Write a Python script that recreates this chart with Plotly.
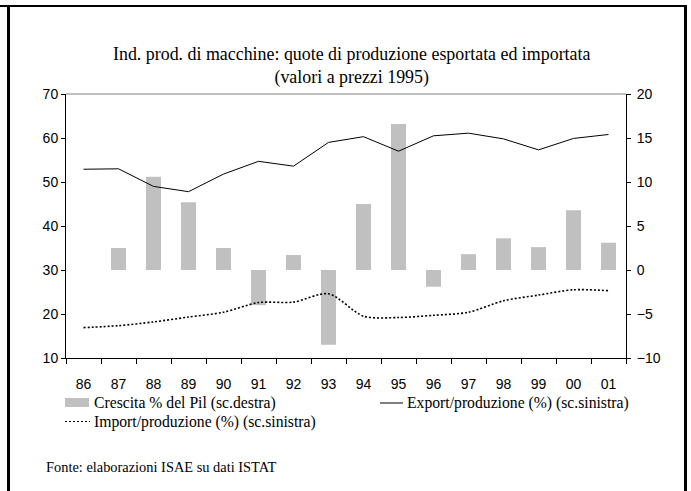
import plotly.graph_objects as go

# years on the category axis
anni = ["86", "87", "88", "89", "90", "91", "92", "93",
        "94", "95", "96", "97", "98", "99", "00", "01"]

# GDP growth (%), right scale -- no bar for 1986
crescita_pil = [None, 2.5, 10.6, 7.7, 2.5, -4.0, 1.7, -8.5,
                7.5, 16.6, -1.9, 1.8, 3.6, 2.6, 6.8, 3.1]

# export / production (%), left scale
export_prod = [52.9, 53.0, 49.0, 47.8, 51.8, 54.7, 53.6, 59.0,
               60.3, 57.0, 60.5, 61.1, 59.8, 57.3, 59.9, 60.8]

# import / production (%), left scale
import_prod = [16.9, 17.35, 18.2, 19.3, 20.4, 22.6, 22.7, 24.6,
               19.5, 19.2, 19.7, 20.4, 23.0, 24.3, 25.5, 25.3]

W, H = 691, 491
L, R, T, B = 66, 65, 94, 133
PW, PH = W - L - R, H - T - B


def px(x):
    # pixel x -> paper x
    return (x - L) / PW


def py(y):
    # pixel y -> paper y
    return (H - B - y) / PH


SERIF = "Liberation Serif, Times New Roman, serif"
SANS = "Liberation Sans, Arial, sans-serif"

fig = go.Figure()

# bars on the primary (right-hand) axis so the lines sit on top
fig.add_trace(go.Bar(
    x=anni, y=crescita_pil, yaxis="y", width=0.43,
    marker=dict(color="#c0c0c0", line=dict(width=0)),
    name="Crescita % del Pil (sc.destra)", showlegend=False,
))
fig.add_trace(go.Scatter(
    x=anni, y=export_prod, yaxis="y2", mode="lines",
    line=dict(color="black", width=1),
    name="Export/produzione (%) (sc.sinistra)", showlegend=False,
))
fig.add_trace(go.Scatter(
    x=anni, y=import_prod, yaxis="y2", mode="lines",
    line=dict(color="black", width=1.6, dash="2px,2px", shape="spline", smoothing=0.8),
    name="Import/produzione (%) (sc.sinistra)", showlegend=False,
))

shapes = [
    # grey top edge of the plot area
    dict(type="line", xref="paper", yref="paper", x0=0, x1=1, y0=1, y1=1,
         line=dict(color="#808080", width=1)),
    # outer frame (left, top, right)
    dict(type="line", xref="paper", yref="paper", x0=px(8.5), x1=px(8.5),
         y0=py(5), y1=py(495), line=dict(color="black", width=3)),
    dict(type="line", xref="paper", yref="paper", x0=px(0), x1=px(687),
         y0=py(6), y1=py(6), line=dict(color="black", width=2)),
    dict(type="line", xref="paper", yref="paper", x0=px(685.5), x1=px(685.5),
         y0=py(5), y1=py(495), line=dict(color="black", width=3)),
    # legend swatches
    dict(type="rect", xref="paper", yref="paper", x0=px(65), x1=px(89),
         y0=py(407), y1=py(398), fillcolor="#c0c0c0", line=dict(width=0)),
    dict(type="line", xref="paper", yref="paper", x0=px(380), x1=px(403),
         y0=py(403), y1=py(403), line=dict(color="black", width=1)),
    dict(type="line", xref="paper", yref="paper", x0=px(65), x1=px(90),
         y0=py(421.5), y1=py(421.5), line=dict(color="black", width=1.2, dash="2px,2px")),
]

annotations = [
    dict(text="Crescita % del Pil (sc.destra)", x=px(92), y=py(403)),
    dict(text="Export/produzione (%) (sc.sinistra)", x=px(405), y=py(403)),
    dict(text="Import/produzione (%) (sc.sinistra)", x=px(92), y=py(421.5)),
]
for a in annotations:
    a.update(xref="paper", yref="paper", xanchor="left", yanchor="middle",
             showarrow=False, font=dict(family=SERIF, size=15.7, color="black"))
annotations.append(dict(
    text="Fonte: elaborazioni ISAE su dati ISTAT", x=px(44), y=py(466.5),
    xref="paper", yref="paper", xanchor="left", yanchor="middle", showarrow=False,
    font=dict(family=SERIF, size=14.4, color="black"),
))

fig.update_layout(
    width=W, height=H,
    margin=dict(l=L, r=R, t=T, b=B),
    paper_bgcolor="white", plot_bgcolor="white",
    showlegend=False,
    title=dict(
        text="Ind. prod. di macchine: quote di produzione esportata ed importata"
             "<br>(valori a prezzi 1995)",
        x=0.509, xanchor="center", y=1 - 60 / H, yanchor="middle",
        font=dict(family=SERIF, size=17.9, color="black"),
    ),
    font=dict(family=SANS, size=14, color="black"),
    xaxis=dict(
        type="category", range=[-0.5, 15.5], tickson="boundaries",
        ticks="outside", ticklen=5, tickcolor="black",
        showline=True, linecolor="black", linewidth=1,
        showgrid=False, ticklabelstandoff=13,
        tickfont=dict(family=SANS, size=14),
    ),
    yaxis=dict(
        side="right", range=[-10, 20], dtick=5,
        ticks="outside", ticklen=4, tickcolor="black",
        showline=True, linecolor="black", linewidth=1,
        showgrid=False, zeroline=False, ticklabelstandoff=3,
        tickfont=dict(family=SANS, size=14),
    ),
    yaxis2=dict(
        overlaying="y", side="left", range=[10, 70], dtick=10,
        ticks="outside", ticklen=4, tickcolor="black",
        showline=True, linecolor="black", linewidth=1,
        showgrid=False, zeroline=False,
        tickfont=dict(family=SANS, size=14),
    ),
    shapes=shapes,
    annotations=annotations,
)

# drop the page's default 8px body margin so the figure sits at the window origin
fig.write_html("out.html", config={"displayModeBar": False},
               post_script="document.body.style.margin = '0';")
